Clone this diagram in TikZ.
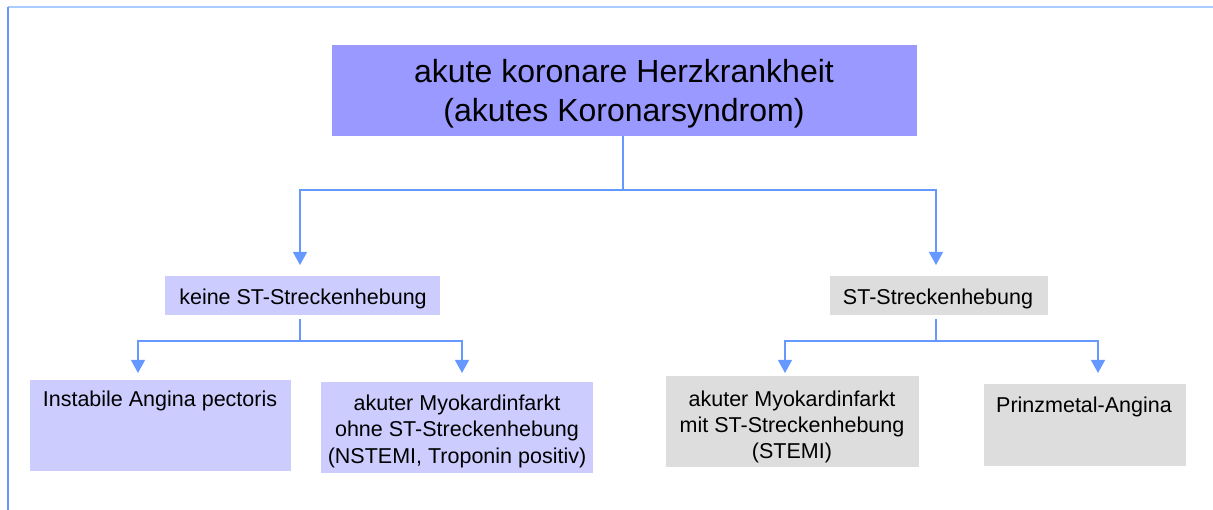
\documentclass[tikz,border=0pt]{standalone}
\usepackage{fontspec}
\setmainfont{Liberation Sans}
\usetikzlibrary{arrows.meta}
\definecolor{topfill}{HTML}{9999FF}
\definecolor{leftfill}{HTML}{CCCCFF}
\definecolor{rightfill}{HTML}{DDDDDD}
\definecolor{linecol}{HTML}{6699FF}
\definecolor{framecol}{HTML}{AACCFF}
\begin{document}
\begin{tikzpicture}[x=1pt,y=-1pt,
  box/.style={draw=none,inner sep=0pt,outer sep=0pt,anchor=north west},
  txt/.style={inner sep=0pt,anchor=base,align=center,font=\fontsize{21.5}{26}\selectfont},
  bigtxt/.style={inner sep=0pt,anchor=base,align=center,font=\fontsize{32}{39}\selectfont},
  conn/.style={draw=linecol,line width=1.2pt},
  arr/.style={conn,-{Triangle[width=14pt,length=13pt]}}]
\useasboundingbox (0,0) rectangle (1213,510);
% frame
\draw[framecol,line width=2pt] (8,7) -- (1213,7);
\draw[linecol,line width=1.5pt] (8,7) -- (8,510);
% boxes
\node[box,fill=topfill,minimum width=585pt,minimum height=91pt] (top) at (332,45) {};
\node[box,fill=leftfill,minimum width=275pt,minimum height=39pt] (keine) at (165,276) {};
\node[box,fill=rightfill,minimum width=218pt,minimum height=39pt] (st) at (830,276) {};
\node[box,fill=leftfill,minimum width=261pt,minimum height=91pt] (ia) at (30,380) {};
\node[box,fill=leftfill,minimum width=272pt,minimum height=91pt] (nst) at (321,382) {};
\node[box,fill=rightfill,minimum width=253pt,minimum height=91pt] (stemi) at (666,376) {};
\node[box,fill=rightfill,minimum width=202pt,minimum height=82pt] (pa) at (984,384) {};
% texts (base anchor = baseline of last line)
\node[bigtxt] (top-t) at (624,122) {akute koronare Herzkrankheit\\(akutes Koronarsyndrom)};
\node[txt] (keine-t) at (303,305) {keine ST-Streckenhebung};
\node[txt] (st-t) at (938,305) {ST-Streckenhebung};
\node[txt] (ia-t) at (160,407) {Instabile Angina pectoris};
\node[txt] (nst-t) at (457,463) {akuter Myokardinfarkt\\ohne ST-Streckenhebung\\(NSTEMI, Troponin positiv)};
\node[txt] (stemi-t) at (792,458) {akuter Myokardinfarkt\\mit ST-Streckenhebung\\(STEMI)};
\node[txt] (pa-t) at (1084,413) {Prinzmetal-Angina};
% junctions
\coordinate (j0) at (623,190);
\coordinate (j1) at (300,341);
\coordinate (j2) at (936,341);
% connectors
\draw[conn] (top.south -| j0) -- (j0);
\draw[arr,shorten >=11pt] (j0) -| (j1 |- keine.north);
\draw[arr,shorten >=11pt] (j0) -| (j2 |- st.north);
\draw[conn,shorten <=4pt] (j1 |- keine.south) -- (j1);
\draw[arr,shorten >=7pt] (j1) -| (138,380);
\draw[arr,shorten >=9pt] (j1) -| (462,382);
\draw[conn,shorten <=4pt] (j2 |- st.south) -- (j2);
\draw[arr,shorten >=3pt] (j2) -| (785,376);
\draw[arr,shorten >=11pt] (j2) -| (1098,384);
\end{tikzpicture}
\end{document}
